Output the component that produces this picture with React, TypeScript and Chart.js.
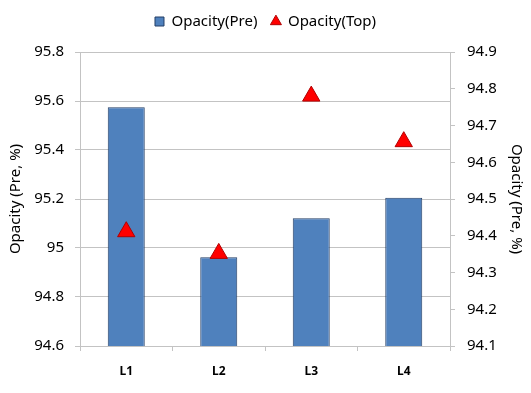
import React, { useEffect, useRef } from 'react';
import { Chart, registerables } from 'chart.js';

Chart.register(...registerables);

const categories = ['L1', 'L2', 'L3', 'L4'];
const preValues = [95.574, 94.962, 95.121, 95.205];
const topValues = [94.411, 94.352, 94.78, 94.656];
const seriesNames = ['Opacity(Pre)', 'Opacity(Top)'];
const leftAxisTitle = 'Opacity (Pre, %)';
const rightAxisTitle = 'Opacity (Pre, %)';
const leftRange = [94.6, 95.8, 0.2];
const rightRange = [94.1, 94.9, 0.1];

const FONT = '"Noto Sans", "DejaVu Sans", sans-serif';
const GRID = '#c3c3c3';
const legendStyles = ['rect', 'triangle'];

const legendHeightPlugin = {
  id: 'legendHeight',
  beforeInit(chart: any) {
    const legend = chart.legend;
    if (!legend || legend._fixedFit) return;
    const orig = legend.fit;
    legend.fit = function () {
      orig.call(this);
      this.height = 52;
    };
    legend._fixedFit = true;
  },
};

export default function App() {
  const ref = useRef<HTMLCanvasElement | null>(null);

  useEffect(() => {
    if (!ref.current) return;
    const fmt = (v: any) => String(Number(Number(v).toFixed(1)));
    const chart = new Chart(ref.current, {
      data: {
        labels: categories,
        datasets: [
          {
            type: 'bar',
            label: seriesNames[0],
            data: preValues,
            yAxisID: 'y',
            backgroundColor: '#4f81bd',
            borderColor: '#243f66',
            borderWidth: 1,
            barPercentage: 0.4,
            categoryPercentage: 1.0,
            order: 2,
          } as any,
          {
            type: 'line',
            label: seriesNames[1],
            data: topValues,
            yAxisID: 'y1',
            showLine: false,
            pointStyle: 'triangle',
            pointRadius: 10,
            pointHoverRadius: 10,
            backgroundColor: '#ff0000',
            borderColor: '#b00000',
            borderWidth: 1,
            order: 1,
          } as any,
        ],
      },
      options: {
        responsive: false,
        animation: false,
        devicePixelRatio: 1,
        layout: { padding: 0 },
        plugins: {
          legend: {
            position: 'top',
            labels: {
              usePointStyle: true,
              boxWidth: 9,
              boxHeight: 9,
              padding: 14,
              color: '#000',
              font: { family: FONT, size: 15 },
              generateLabels: (c: any) => {
                const items = (Chart as any).defaults.plugins.legend.labels.generateLabels(c);
                return items
                  .map((it: any) => ({
                    ...it,
                    pointStyle: legendStyles[it.datasetIndex],
                  }))
                  .sort((a: any, b: any) => a.datasetIndex - b.datasetIndex);
              },
            },
          },
          tooltip: { enabled: false },
        },
        scales: {
          x: {
            type: 'category',
            offset: true,
            grid: {
              offset: true,
              drawOnChartArea: false,
              drawTicks: true,
              tickLength: 5,
              color: GRID,
            },
            border: { display: true, color: GRID },
            ticks: {
              color: '#000',
              padding: 13,
              maxRotation: 0,
              font: { family: FONT, size: 12, weight: 'bold' },
            },
            afterFit: (s: any) => {
              s.height = 47;
            },
          },
          y: {
            position: 'left',
            min: leftRange[0],
            max: leftRange[1],
            ticks: {
              stepSize: leftRange[2],
              color: '#000',
              padding: 11,
              font: { family: FONT, size: 15 },
              callback: fmt,
            },
            grid: { color: GRID, tickLength: 5, drawTicks: true },
            border: { display: true, color: GRID },
            title: {
              display: true,
              text: leftAxisTitle,
              color: '#000',
              font: { family: FONT, size: 15 },
              padding: { top: 7, bottom: 0 },
            },
            afterFit: (s: any) => {
              s.width = 80;
            },
          },
          y1: {
            position: 'right',
            min: rightRange[0],
            max: rightRange[1],
            ticks: {
              stepSize: rightRange[2],
              color: '#000',
              padding: 12,
              font: { family: FONT, size: 15 },
              callback: fmt,
            },
            grid: { drawOnChartArea: false, color: GRID, tickLength: 5, drawTicks: true },
            border: { display: true, color: GRID },
            title: {
              display: true,
              text: rightAxisTitle,
              color: '#000',
              font: { family: FONT, size: 15 },
              padding: { top: 6, bottom: 0 },
            },
            afterFit: (s: any) => {
              s.width = 81;
            },
          },
        },
      } as any,
      plugins: [legendHeightPlugin as any],
    });
    return () => chart.destroy();
  }, []);

  return (
    <div style={{ position: 'absolute', left: 0, top: 0, width: 531, height: 393, background: '#fff' }}>
      <canvas ref={ref} width={531} height={393} style={{ width: 531, height: 393, display: 'block' }} />
    </div>
  );
}
